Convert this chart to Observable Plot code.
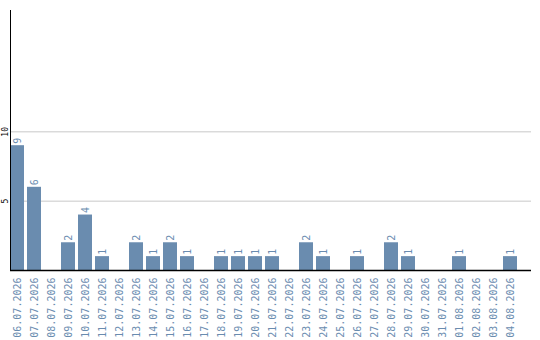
<!DOCTYPE html>
<html>
<head>
<meta charset="utf-8">
<script src="https://cdn.jsdelivr.net/npm/d3@7"></script>
<script src="https://cdn.jsdelivr.net/npm/@observablehq/plot@0.6"></script>
<style>
  html, body { margin: 0; padding: 0; background: #fff; }
</style>
</head>
<body>
<div id="chart"></div>
<script>
// Daily counts, 06.07.2026 – 04.08.2026
const dates = [
  "06.07.2026", "07.07.2026", "08.07.2026", "09.07.2026", "10.07.2026",
  "11.07.2026", "12.07.2026", "13.07.2026", "14.07.2026", "15.07.2026",
  "16.07.2026", "17.07.2026", "18.07.2026", "19.07.2026", "20.07.2026",
  "21.07.2026", "22.07.2026", "23.07.2026", "24.07.2026", "25.07.2026",
  "26.07.2026", "27.07.2026", "28.07.2026", "29.07.2026", "30.07.2026",
  "31.07.2026", "01.08.2026", "02.08.2026", "03.08.2026", "04.08.2026"
];
const counts = [
  9, 6, 0, 2, 4,
  1, 0, 2, 1, 2,
  1, 0, 1, 1, 1,
  1, 0, 2, 1, 0,
  1, 0, 2, 1, 0,
  0, 1, 0, 0, 1
];
const yTicks = [5, 10];

const rows = dates.map((date, i) => ({date, count: counts[i]}));
const barColor = "#6a8caf";
const mono = "'DejaVu Sans Mono', monospace";

const chart = Plot.plot({
  width: 540,
  height: 340,
  marginTop: 10,
  marginLeft: 10,
  marginRight: 9,
  marginBottom: 70,
  style: {fontFamily: mono, background: "#fff"},
  x: {type: "band", domain: dates, range: [10, 517], paddingInner: 3 / 17, paddingOuter: 0},
  y: {domain: [0, 18.75]},
  marks: [
    Plot.gridY(yTicks, {stroke: "#c8c8c8", strokeOpacity: 1}),
    Plot.barY(rows.filter(d => d.count > 0), {x: "date", y: "count", fill: barColor}),
    Plot.text(rows.filter(d => d.count > 0), {
      x: "date", y: "count", text: d => String(d.count),
      rotate: -90, textAnchor: "start", lineAnchor: "middle",
      dy: -2, fill: barColor, fontSize: 10
    }),
    Plot.axisX({
      tickSize: 0, tickPadding: 7, tickRotate: -90,
      fontSize: 10, color: barColor, label: null
    }),
    Plot.axisY(yTicks, {
      anchor: "left", tickSize: 0, tickPadding: 3, tickRotate: -90,
      fontSize: 8, color: "#000", label: null
    }),
    Plot.ruleY([0], {stroke: "#000", strokeWidth: 1.5}),
    Plot.frame({anchor: "left", stroke: "#000"})
  ]
});
document.getElementById("chart").append(chart);
</script>
</body>
</html>
